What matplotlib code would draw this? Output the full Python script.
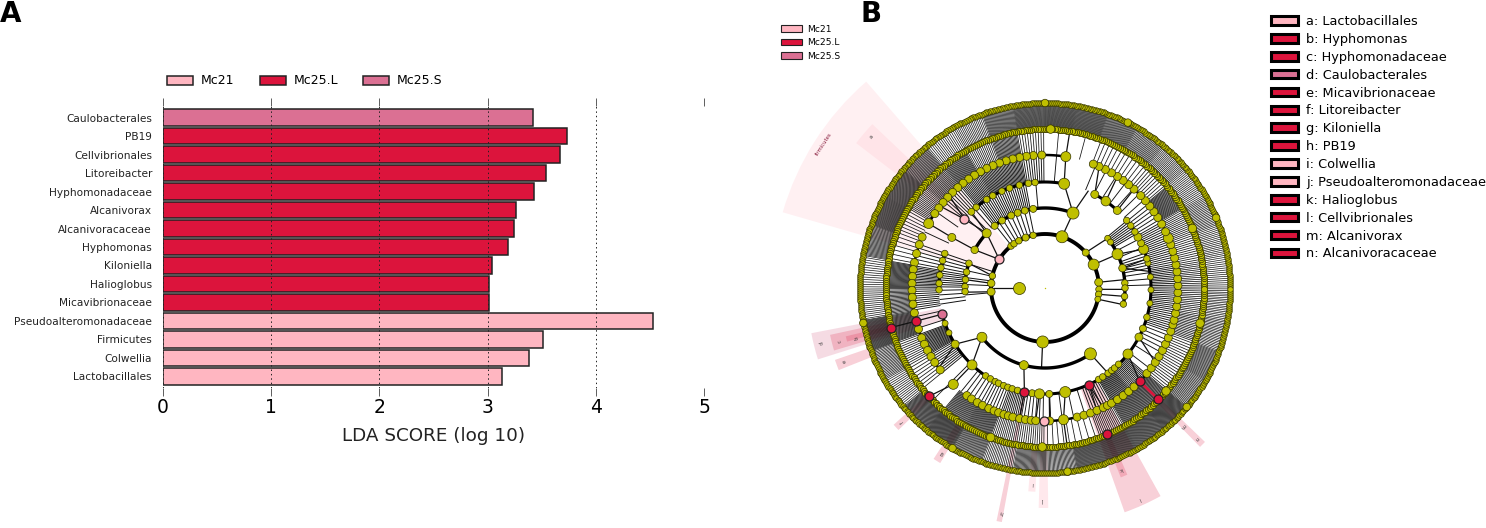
import numpy as np
import matplotlib
matplotlib.use("Agg")
import matplotlib.pyplot as plt
from matplotlib.patches import Patch

W, H = 1486, 528

PINK = "#FFB6C1"
RED = "#DC143C"
MAUVE = "#DB7093"
YEL = "#BFBF00"

# panel A
taxa = ["Caulobacterales", "PB19", "Cellvibrionales", "Litoreibacter", "Hyphomonadaceae",
        "Alcanivorax", "Alcanivoracaceae", "Hyphomonas", "Kiloniella", "Halioglobus",
        "Micavibrionaceae", "Pseudoalteromonadaceae", "Firmicutes", "Colwellia", "Lactobacillales"]
lda = [3.42, 3.73, 3.67, 3.54, 3.43, 3.26, 3.24, 3.19, 3.04, 3.01, 3.01, 4.53, 3.51, 3.38, 3.13]
groups = ["S", "L", "L", "L", "L", "L", "L", "L", "L", "L", "L", "P", "P", "P", "P"]
group_names = ["Mc21", "Mc25.L", "Mc25.S"]

# panel B legend
key_labels = ["a: Lactobacillales", "b: Hyphomonas", "c: Hyphomonadaceae", "d: Caulobacterales",
              "e: Micavibrionaceae", "f: Litoreibacter", "g: Kiloniella", "h: PB19", "i: Colwellia",
              "j: Pseudoalteromonadaceae", "k: Halioglobus", "l: Cellvibrionales",
              "m: Alcanivorax", "n: Alcanivoracaceae"]
key_groups = ["P", "L", "L", "S", "L", "L", "L", "L", "P", "P", "L", "L", "L", "L"]

# cladogram: ring radii, in px of the picture
R0, R1, R2, R3, R4, R5, R6 = 26, 54, 80, 106, 133, 159, 185

# angles in degrees (0 = east, counter clockwise), sizes = node diameter in px
ring1_angle = [71.6, 41, 25.7, 6.1, -1.4, -6.7, -12, 267.5, 184, 175, 167, 129, 125, 119, 111, 102.7]
ring1_size = [12, 7, 11, 8, 6.5, 6.5, 6, 12, 8, 7.5, 6.5, 6.5, 6.5, 6.5, 7, 6.5]
ring2_angle = [69.5, 98.5, 104.6, 110, 115, 122.5, 129, 136.8, 151.5, 162, 168.5, 174, 179, 182.6,
               218, 254.7, 304.6, 38.4, 35, 25, 14.4, 3.6, 0, -6, -11.6]
ring2_size = [12, 7, 7, 7, 7, 7, 7, 9, 7.5, 6.5, 6.5, 6.5, 6.5, 6.5, 10, 9, 12, 6, 6, 11, 7.5, 6.5, 6.5, 6.5, 6.5]
ring3_angle = [79.6, 95.4, 99, 104, 109.5, 114, 119.5, 123.4, 130.4, 134, 151.5, 161, 165, 169, 173,
               177.5, 181, 199.5, 205, 212, 226.5, 236, 239, 242, 244, 247, 249.5, 252, 255, 263, 267,
               272.3, 281, 300.4, 303, 306.5, 309, 311, 314, 321.5, 332.4, 337.5, 344, 351.7, 359,
               6, 13.6, 16, 21.5, 25, 28.7, 32, 36, 39.6, 47, 55, 62]
ring3_size = [11, 6.5, 6.5, 6.5, 6.5, 6.5, 6.5, 6.5, 6.5, 7, 8, 6.5, 6.5, 6.5, 6.5,
              6.5, 6.5, 6, 6, 8, 10, 6.5, 6.5, 6.5, 6.5, 6.5, 6.5, 6.5, 6.5, 7, 10,
              7, 11, 6.5, 6.5, 6.5, 6.5, 6.5, 6.5, 10, 8, 7, 6.5, 6, 6,
              6, 6, 6.5, 10, 7, 8, 6.5, 6.5, 6.5, 8, 9.5, 8]
ring4_angle = [81, 91.4, 95, 98, 101, 104, 107, 110, 113, 116, 119, 122, 125, 128, 131, 134, 137, 140,
               143, 146, 151, 157.5, 161, 165, 169, 172, 175, 178, 181, 184, 187, 190.8, 198, 202, 205,
               208, 211, 214, 218, 226.4, 234, 236.5, 239.4, 242, 245, 247.5, 249.6, 252, 254, 256, 259,
               261.5, 264, 266, 272, 278, 284, 287, 290, 293, 296, 298, 300, 303, 306, 309, 312, 320,
               323, 326, 329, 332, 335, 338, 341, 344, 346, 349, 352, 355, 358, 1, 4, 7, 10, 13, 16, 19,
               22, 25, 28.7, 32, 35, 38, 41, 44, 48, 51, 54, 57, 60, 63, 66, 68.7]
ring4_big = [81, 151, 226.4, 278, 22]  # the larger nodes of ring 4

# marked nodes: angle, radius, colour
marked_angle = [148, 139.5, 194.3, 269.6, 258.8, 294.4, 194.4, 315.4, 194.4, 223, 292.9, 315.5]
marked_ring = [R1, R3, R3, R4, R3, R3, R4, R4, R5, R5, R5, R5]
marked_group = ["P", "P", "S", "P", "L", "L", "L", "L", "L", "L", "L", "L"]

# larger nodes sitting on the two outer rings
ring5_big = [88, -40.4, -12.8, 269, 250, 22]
ring6_big = [63.4, 22.3, -40, 190.9, -83, 240, 90]

# the outer spokes are too dense to read one by one: counts per 10 degree sector,
# starting at 0 degrees
spokes_1_2 = [0] * 10 + [3, 3, 3] + [0] * 3 + [2, 2, 1] + [0] * 17
spokes_2_3 = [3, 6, 2, 8] + [0] * 5 + [1, 8, 8, 8, 3, 0, 0, 5, 8, 4] + [0] * 17
spokes_3_4 = [12, 10, 10, 6, 3, 2, 2, 0, 1, 9, 16, 16, 14, 8, 1, 1, 6, 14, 10, 2, 18, 10, 1, 5, 7, 12, 6, 2, 2, 8,
              18, 14, 2, 5, 10, 11]
spokes_4_5 = [14, 12, 14, 26, 9, 6, 6, 1, 1, 10, 22, 14, 24, 20, 16, 8, 6, 28, 20, 28, 12, 8, 1, 24, 26, 14, 12,
              5, 4, 14, 26, 26, 10, 10, 16, 14]
spokes_5_6 = [15, 17, 20, 17, 20, 24, 30, 36, 38, 36, 30, 18, 15, 28, 36, 38, 28, 13, 15, 40, 22, 15, 36, 40,
              28, 18, 28, 24, 36, 38, 36, 40, 24, 28, 20, 18]
ring5_count = [13] * 36
ring6_count = [16] * 36

# single links between rings: angle from, radius from, angle to, radius to
links = [(71.6, R1, 69.5, R2), (69.5, R2, 79.6, R3), (69.5, R2, 66, R3), (41, R1, 38.4, R2), (25.7, R1, 25, R2),
         (6.1, R1, 6, R2), (-1.4, R1, -1, R2), (-6.7, R1, -6, R2), (-12, R1, -12, R2), (180, R0, 180, R1),
         (184, R1, 183, R2), (175, R1, 174, R2), (167, R1, 162, R2), (148, R1, 151.5, R2), (148, R1, 136.8, R2),
         (136.8, R2, 139.5, R3), (136.8, R2, 134, R3), (151.5, R2, 151.5, R3), (151.5, R3, 151, R4),
         (139.5, R3, 136, R4), (139.5, R3, 142, R4), (267.5, R1, 267.5, R2), (218, R2, 212, R3),
         (218, R2, 226.5, R3), (226.5, R3, 226.4, R4), (226.4, R4, 223, R5), (254.7, R2, 258.8, R3),
         (304.6, R2, 306.5, R3), (212, R3, 217, R4), (321.5, R3, 315.4, R4), (332.4, R3, 326, R4),
         (281, R3, 278, R4), (278, R4, 278, R5), (272.3, R3, 272, R4), (267, R3, 266, R4), (258.8, R3, 259, R4),
         (294.4, R3, 293, R4), (294.4, R3, 296, R4), (25, R2, 21.5, R3), (14.4, R2, 16, R3), (14.4, R2, 9, R3),
         (194.3, R3, 194.4, R4), (194.4, R4, 194.4, R5), (81, R4, 81, R5), (47, R3, 48, R4), (55, R3, 57, R4),
         (62, R3, 66, R4), (79.6, R3, 81, R4)]

# thick arcs: start, end (degrees) per ring, and their width
arcs_r1 = [(0, 360)]
arcs_r2 = [(218, 304.6), (72, 129), (136.8, 151.5), (162, 183), (-12, 38)]
arcs_r3 = [(194, 400), (47, 62), (79, 134), (161, 181)]
arcs_r4 = [(81, 151), (157, 191), (191, 218), (234, 332), (332, 400), (41, 69)]

# highlighted sectors: centre angle, width, inner radius, outer radius, colour, alpha
sec_angle = [147.4, 139.5, 194.2, 194.4, 194.4, 200.3, 223.1, 238, 258.9, 266.3, 269.6, 294.3, 292.8, 315.2]
sec_width = [33, 6, 6.5, 4.2, 1.5, 2.8, 2, 2.2, 1.3, 2, 2.5, 9.5, 2, 1.8]
sec_inner = [R1, R3, R3, R5, R5, R6, R5, R5, R3, R5, R4, R3, R5, R4]
sec_outer = [273, 238, 238, 220, 205, 222, 204, 204, 238, 204, 220, 238, 204, 222]
sec_group = ["P", "P", "S", "L", "L", "L", "L", "L", "L", "P", "P", "L", "L", "L"]
sec_alpha = [0.2, 0.2, 0.25, 0.2, 0.2, 0.2, 0.2, 0.2, 0.2, 0.3, 0.3, 0.2, 0.2, 0.2]
# little letters: letter, angle, radius
tag_letter = ["a", "b", "c", "d", "e", "f", "g", "h", "i", "j", "k", "l", "m", "n"]
tag_angle = [139, 194.7, 194.4, 193.9, 200.2, 223.1, 238, 259, 266.3, 269.6, 292.8, 294.2, 315.1, 315.2]
tag_radius = [230, 195, 212, 230, 213, 195, 195, 228, 196, 212, 196, 231, 195, 213]

col = {"P": PINK, "L": RED, "S": MAUVE}


def sector_angles(counts):
    out = []
    for i, c in enumerate(counts):
        if c > 0:
            out.extend(i * 10 + (np.arange(c) + 0.5) * 10 / c)
    return np.radians(out)


def dots(ax, angles, radius, size, color=YEL, z=4, lw=0.5, edge="#333300"):
    s = (np.asarray(size) * 0.72) ** 2
    ax.scatter(np.radians(angles), np.full(len(angles), radius), s=s, c=color,
               edgecolors=edge, linewidths=lw, zorder=z, clip_on=False)


fig = plt.figure(figsize=(W / 100, H / 100), dpi=100)

# ---- panel A ----
ax = fig.add_axes([163 / W, 1 - 388 / H, 541 / W, 282 / H])
y = np.arange(len(taxa))
ax.barh(y, lda, height=0.9, color=[col[g] for g in groups], edgecolor="#222222", linewidth=1.1, zorder=2)
ax.set_yticks(y)
ax.set_yticklabels(taxa, fontsize=7.6, color="#222222")
ax.set_ylim(len(taxa) - 0.37, -0.63)
ax.set_xlim(0, 5)
ax.set_xticks(range(6))
ax.tick_params(axis="x", length=6, width=0.6, labelsize=13.5, top=True, color="#444444", pad=1.5)
ax.tick_params(axis="y", length=0, pad=8)
ax.grid(axis="x", linestyle=(0, (1.5, 3)), color="#222222", linewidth=0.7, zorder=3)
ax.set_axisbelow(False)
for sp in ax.spines.values():
    sp.set_visible(False)
ax.set_xlabel("LDA SCORE (log 10)", fontsize=13.2, color="#222222", labelpad=7)

legend_handles = [Patch(facecolor=c, edgecolor="#222222", linewidth=1.1) for c in (PINK, RED, MAUVE)]
fig.legend(legend_handles, group_names, ncol=3, frameon=False, fontsize=9.0, loc="center left",
           bbox_to_anchor=(167 / W, 1 - 81 / H), handlelength=2.08, handleheight=0.75, columnspacing=2.0,
           handletextpad=0.64, borderaxespad=0, borderpad=0)

# ---- panel B ----
cx, cy, rmax = 1045, 288, 280
bx = fig.add_axes([(cx - rmax) / W, 1 - (cy + rmax) / H, 2 * rmax / W, 2 * rmax / H], projection="polar")
bx.set_ylim(0, rmax)
bx.set_axis_off()
bx.patch.set_alpha(0)

for a, w, r0, r1, g, al in zip(sec_angle, sec_width, sec_inner, sec_outer, sec_group, sec_alpha):
    bx.bar(np.radians(a), r1 - r0, width=np.radians(w), bottom=r0, color=col[g], alpha=al, linewidth=0, zorder=1)

for counts, r0, r1, lw in [(spokes_1_2, R1, R2, 0.7), (spokes_2_3, R2, R3, 0.7), (spokes_3_4, R3, R4, 0.65),
                           (spokes_4_5, R4, R5, 0.55), (spokes_5_6, R5, R6, 0.5)]:
    bx.vlines(sector_angles(counts), r0, r1, color="#111111", linewidth=lw, zorder=2)

for a0, r0, a1, r1 in links:
    bx.plot(np.radians([a0, a1]), [r0, r1], color="#111111", linewidth=0.9, zorder=2)

bx.plot(np.radians([315.4, 315.5]), [R4, R5], color=RED, linewidth=1.8, zorder=3)

for arcs, r, lw in [(arcs_r1, R1, 2.8), (arcs_r2, R2, 2.4), (arcs_r3, R3, 2.2), (arcs_r4, R4, 1.8)]:
    for a0, a1 in arcs:
        t = np.radians(np.linspace(a0, a1, 120))
        bx.plot(t, np.full(t.size, r), color="#000000", linewidth=lw, zorder=3, solid_capstyle="butt")
for r in (R5, R6):
    t = np.radians(np.linspace(0, 360, 361))
    bx.plot(t, np.full(t.size, r), color="#000000", linewidth=1.0, zorder=3)

dots(bx, sector_angles(ring6_count) * 180 / np.pi, R6, 5.5)
dots(bx, sector_angles(ring5_count) * 180 / np.pi, R5, 6.3)
dots(bx, ring4_angle, R4, [10 if a in ring4_big else 8 for a in ring4_angle])
dots(bx, ring3_angle, R3, ring3_size)
dots(bx, ring2_angle, R2, ring2_size)
dots(bx, ring1_angle, R1, ring1_size)
dots(bx, [180], R0, [12])
dots(bx, ring5_big, R5, [8.5] * len(ring5_big))
dots(bx, ring6_big, R6, [7.5] * len(ring6_big))
bx.scatter([0], [0], s=1, c=YEL, linewidths=0, zorder=4)
for a, r, g in zip(marked_angle, marked_ring, marked_group):
    dots(bx, [a], r, [9], color=col[g], z=5, lw=0.9, edge="#222222")

for t_, a, r in zip(tag_letter, tag_angle, tag_radius):
    bx.text(np.radians(a), r, t_, fontsize=3.6, color="#333333", ha="center", va="center",
            rotation=a - 90, rotation_mode="anchor", zorder=6)
bx.text(np.radians(147), 264, "firmicutes", fontsize=3.8, color="#8B2040", ha="center", va="center",
        rotation=57, rotation_mode="anchor", zorder=6)

fig.legend([Patch(facecolor=c, edgecolor="#222222", linewidth=0.8) for c in (PINK, RED, MAUVE)], group_names,
           frameon=False, fontsize=6.6, loc="upper left", bbox_to_anchor=(781 / W, 1 - 24.5 / H),
           handlelength=2.25, handleheight=0.7, labelspacing=0.5, handletextpad=0.65, borderaxespad=0, borderpad=0)

fig.legend([Patch(facecolor=col[g], edgecolor="#000000", linewidth=2.2) for g in key_groups], key_labels,
           frameon=False, fontsize=9.25, loc="upper left", bbox_to_anchor=(1271 / W, 1 - 15 / H),
           handlelength=2.08, handleheight=0.65, labelspacing=0.38, handletextpad=0.63, borderaxespad=0, borderpad=0)

fig.text(0 / W, 1 - 14 / H, "A", fontsize=20, fontweight="bold", va="center", ha="left")
fig.text(860 / W, 1 - 14 / H, "B", fontsize=20, fontweight="bold", va="center", ha="left")

fig.savefig("out.png", dpi=100)
